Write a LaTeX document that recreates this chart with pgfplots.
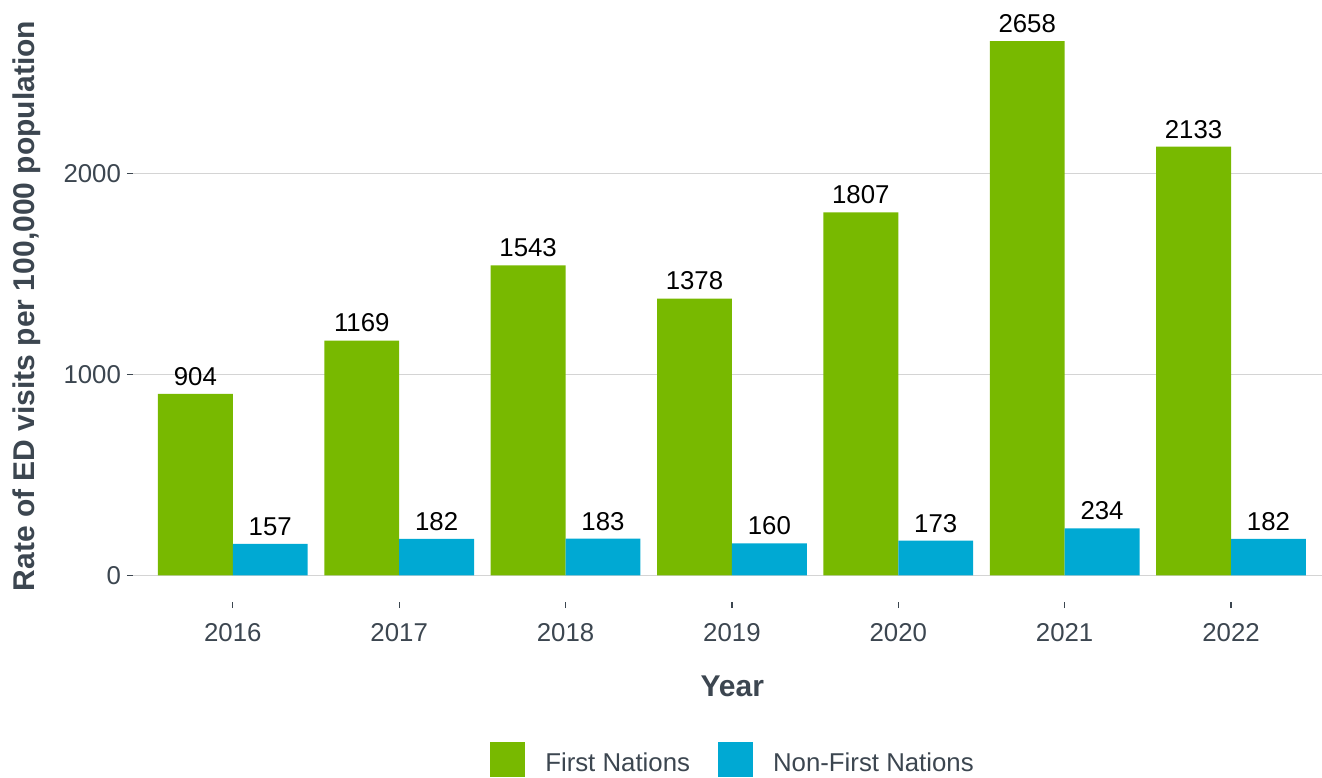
\documentclass[border=0pt]{standalone}
\usepackage{fontspec}
\setmainfont{Liberation Sans}
\usepackage{pgfplots}
\pgfplotsset{compat=1.18}
\definecolor{FN}{RGB}{120,185,0}
\definecolor{NFN}{RGB}{0,169,211}
\definecolor{TXT}{RGB}{60,70,80}
\definecolor{GRD}{RGB}{212,212,212}
\begin{document}
\begin{tikzpicture}
% page = 1322x777 px at 0.5pt per px, panel lower-left at origin
\useasboundingbox (-66.5pt,-87.4pt) rectangle (594.5pt,301.1pt);
\begin{axis}[
  at={(0,0)}, anchor=south west,
  scale only axis, width=594.5pt, height=293.85pt,
  xmin=-0.6, xmax=6.547, ymin=-132.9, ymax=2790.9,
  axis line style={draw=none},
  xtick={0,1,2,3,4,5,6},
  xticklabels={2016,2017,2018,2019,2020,2021,2022},
  ytick={0,1000,2000},
  xtick pos=lower, ytick pos=left,
  tick align=outside, major tick length=3pt,
  tick style={draw=TXT, line width=0.6pt},
  ymajorgrids, grid style={draw=GRD, line width=0.8pt},
  ticklabel style={font=\fontsize{12.9}{14}\selectfont, text=TXT},
  /pgf/number format/assume math mode=true,
  /pgf/number format/1000 sep={},
  xticklabel style={yshift=-4pt},
  yticklabel style={xshift=0.5pt},
  xlabel={Year},
  ylabel={Rate of ED visits per 100,000 population},
  every axis x label/.append style={at={(axis description cs:0.504,-0.1426)}, anchor=center,
    font=\bfseries\fontsize{15}{17}\selectfont, text=TXT},
  every axis y label/.append style={at={(axis description cs:-0.0892,0.504)}, rotate=0, anchor=center,
    font=\bfseries\fontsize{15}{17}\selectfont, text=TXT},
  ybar, bar width=0.45,
  nodes near coords,
  every node near coord/.append style={font=\fontsize{12.9}{14}\selectfont, text=black,
    anchor=south, inner sep=0pt, yshift=4pt},
  legend columns=2,
  legend style={at={(0.5038,-0.2685)}, anchor=center, draw=none, fill=none,
    font=\fontsize{12.9}{14}\selectfont, text=TXT, inner sep=0pt,
    /tikz/every even column/.append style={column sep=14pt},
    nodes={inner sep=0pt, yshift=-1pt}},
  legend image code/.code={
    \fill[#1, draw=none] (0pt,-7.75pt) rectangle (17.5pt,9.75pt);
    \path[draw=none, fill=none] (0pt,0pt) -- (27.5pt,0pt);
  },
]
\addplot[fill=FN, draw=none, bar shift=-0.225] coordinates {
  (0,904) (1,1169) (2,1543) (3,1378) (4,1807) (5,2658) (6,2133)};
\addlegendentry{First Nations}
\addplot[fill=NFN, draw=none, bar shift=0.225] coordinates {
  (0,157) (1,182) (2,183) (3,160) (4,173) (5,234) (6,182)};
\addlegendentry{Non-First Nations}
\end{axis}
\end{tikzpicture}
\end{document}
